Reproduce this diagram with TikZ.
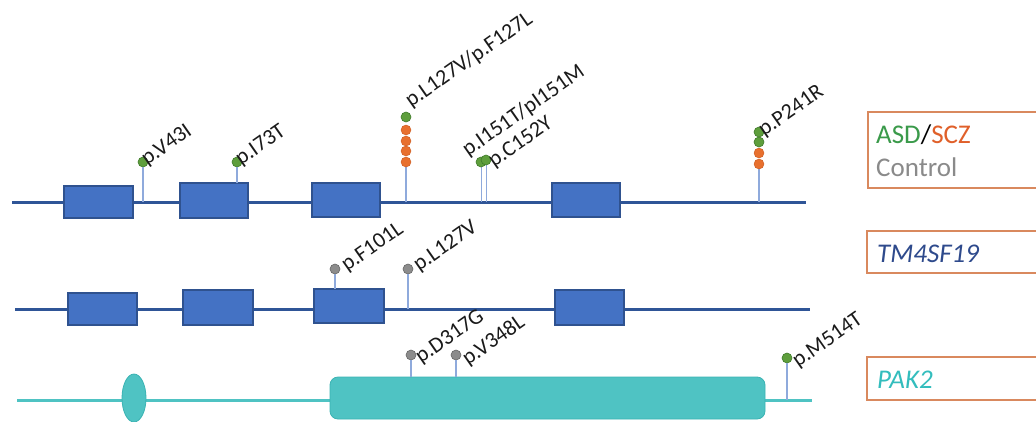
\documentclass[tikz,border=0pt]{standalone}
\usepackage{fontspec}
\setmainfont{Carlito}
\usetikzlibrary{shapes.geometric}
\definecolor{exonfill}{HTML}{4472C4}
\definecolor{exonline}{HTML}{2F528F}
\definecolor{geneline}{HTML}{2F5597}
\definecolor{tealfill}{HTML}{4FC3C3}
\definecolor{tealline}{HTML}{3AB3B3}
\definecolor{stemcol}{HTML}{8FAADC}
\definecolor{dgreen}{HTML}{5E9E3C}
\definecolor{dgreenb}{HTML}{3F7A2A}
\definecolor{dorange}{HTML}{E8702E}
\definecolor{dorangeb}{HTML}{C9581E}
\definecolor{dgray}{HTML}{8C8C8C}
\definecolor{dgrayb}{HTML}{666666}
\definecolor{legbord}{HTML}{D9895E}
\definecolor{asdcol}{HTML}{3A9A4A}
\definecolor{sczcol}{HTML}{E0602A}
\definecolor{ctrlcol}{HTML}{8A8A8A}
\definecolor{tmcol}{HTML}{2E4A8C}
\definecolor{pakcol}{HTML}{33BDBD}
\definecolor{labcol}{HTML}{1A1A1A}
\tikzset{
  exon/.style={draw=exonline, fill=exonfill, line width=1.2pt, inner sep=0pt},
  gline/.style={draw=geneline, line width=3pt},
  tline/.style={draw=tealfill, line width=3pt},
  stem/.style={draw=stemcol, line width=1.4pt},
  dotg/.style={circle, fill=dgreen, draw=dgreenb, line width=0.6pt, minimum size=10pt, inner sep=0pt},
  doto/.style={circle, fill=dorange, draw=dorangeb, line width=0.4pt, minimum size=10pt, inner sep=0pt},
  dotc/.style={circle, fill=dgray, draw=dgrayb, line width=0.6pt, minimum size=10pt, inner sep=0pt},
  lab/.style={anchor=base west, rotate=35, inner sep=0pt, text=labcol, font=\fontsize{22}{26}\selectfont},
  legbox/.style={draw=legbord, line width=1.3pt, fill=white},
  legtext/.style={anchor=base west, inner sep=0pt, font=\fontsize{27}{32}\selectfont}
}
\begin{document}
\begin{tikzpicture}[x=1pt,y=-1pt]
\useasboundingbox (0,0) rectangle (1036,421);
\clip (0,0) rectangle (1036,421);

% ---------- Row 1 ----------
\coordinate (r1a) at (12,202);
\coordinate (r1b) at (806,202);
\draw[gline] (r1a) -- (r1b);
\node[exon, minimum width=69pt, minimum height=32pt] (e11) at (98.5,202) {};
\node[exon, minimum width=68pt, minimum height=35pt] (e12) at (214,200.5) {};
\node[exon, minimum width=68pt, minimum height=34pt] (e13) at (346,200) {};
\node[exon, minimum width=68pt, minimum height=34pt] (e14) at (586,200) {};

% V43I
\coordinate (s1) at (143,202);
\node[dotg] (d1) at (143,162) {};
\draw[stem] (s1) -- (d1.south);
\node[lab] (l1) at (147,166) {p.V43I};
% I73T
\coordinate (s2) at (237,183);
\node[dotg] (d2) at (237,162) {};
\draw[stem] (s2) -- (d2.south);
\node[lab] (l2) at (241,166) {p.I73T};
% L127V/F127L
\coordinate (s3) at (406,202);
\coordinate (t3) at (406,162);
\draw[stem] (s3) -- (t3);
\node[doto] (d3e) at (406,162) {};
\node[doto] (d3d) at (406,151) {};
\node[doto] (d3c) at (406,141) {};
\node[doto] (d3b) at (406,130) {};
\node[dotg] (d3a) at (406,117) {};
\node[lab] (l3) at (411,108) {p.L127V/p.F127L};
% I151T / C152Y
\coordinate (s4) at (481,202);
\coordinate (s5) at (486,202);
\coordinate (t4) at (481,162);
\coordinate (t5) at (486,160);
\draw[stem, line width=1pt] (s4) -- (t4);
\draw[stem, line width=1pt] (s5) -- (t5);
\node[dotg] (d4) at (481,162) {};
\node[dotg] (d5) at (486,160) {};
\node[lab] (l4) at (468,157) {p.I151T/pI151M};
\node[lab] (l5) at (494,168) {p.C152Y};
% P241R
\coordinate (s6) at (759,202);
\coordinate (t6) at (759,164);
\draw[stem] (s6) -- (t6);
\node[doto] (d6d) at (759,164) {};
\node[doto] (d6c) at (759,153) {};
\node[dotg] (d6b) at (759,142) {};
\node[dotg] (d6a) at (759,132) {};
\node[lab] (l6) at (764,137) {p.P241R};

% ---------- Row 2 ----------
\coordinate (r2a) at (15,309);
\coordinate (r2b) at (810,309);
\draw[gline] (r2a) -- (r2b);
\node[exon, minimum width=69pt, minimum height=32pt] (e21) at (102.5,309) {};
\node[exon, minimum width=70pt, minimum height=35pt] (e22) at (218,307.5) {};
\node[exon, minimum width=70pt, minimum height=34pt] (e23) at (349,306) {};
\node[exon, minimum width=69pt, minimum height=35pt] (e24) at (589.5,307.5) {};
% F101L
\coordinate (s7) at (335,289);
\node[dotc] (d7) at (335,269) {};
\draw[stem] (s7) -- (d7.south);
\node[lab] (l7) at (347,272) {p.F101L};
% L127V
\coordinate (s8) at (408,309);
\node[dotc] (d8) at (408,269) {};
\draw[stem] (s8) -- (d8.south);
\node[lab] (l8) at (419,272) {p.L127V};

% ---------- Row 3 ----------
\coordinate (r3a) at (17,400);
\coordinate (r3b) at (812,400);
\draw[tline] (r3a) -- (r3b);
\node[ellipse, draw=tealline, fill=tealfill, line width=0.8pt, minimum width=24pt, minimum height=48pt, inner sep=0pt] (pd) at (134,398) {};
\node[draw=tealline, fill=tealfill, line width=0.8pt, rounded corners=8pt, minimum width=435pt, minimum height=42pt, inner sep=0pt] (kd) at (547.5,398) {};
% D317G
\coordinate (s9) at (411,377);
\node[dotc] (d9) at (411,355) {};
\draw[stem] (s9) -- (d9.south);
\node[lab] (l9) at (421,364) {p.D317G};
% V348L
\coordinate (s10) at (456,377);
\node[dotc] (d10) at (456,355) {};
\draw[stem] (s10) -- (d10.south);
\node[lab] (l10) at (468,366) {p.V348L};
% M514T
\coordinate (s11) at (787,400);
\node[dotg] (d11) at (787,358) {};
\draw[stem] (s11) -- (d11.south);
\node[lab] (l11) at (798,368) {p.M514T};

% ---------- Legend ----------
\draw[legbox] (868,112) rectangle (1050,188);
\node[legtext] (lg1) at (876,143) {\textcolor{asdcol}{ASD}\textcolor{black}{/}\textcolor{sczcol}{SCZ}};
\node[legtext, text=ctrlcol] (lg2) at (876,176) {Control};
\draw[legbox] (867,231) rectangle (1050,273);
\node[legtext, text=tmcol] (lg3) at (877,262) {\itshape TM4SF19};
\draw[legbox] (867,357) rectangle (1050,400);
\node[legtext, text=pakcol] (lg4) at (877,388) {\itshape PAK2};
\end{tikzpicture}
\end{document}
